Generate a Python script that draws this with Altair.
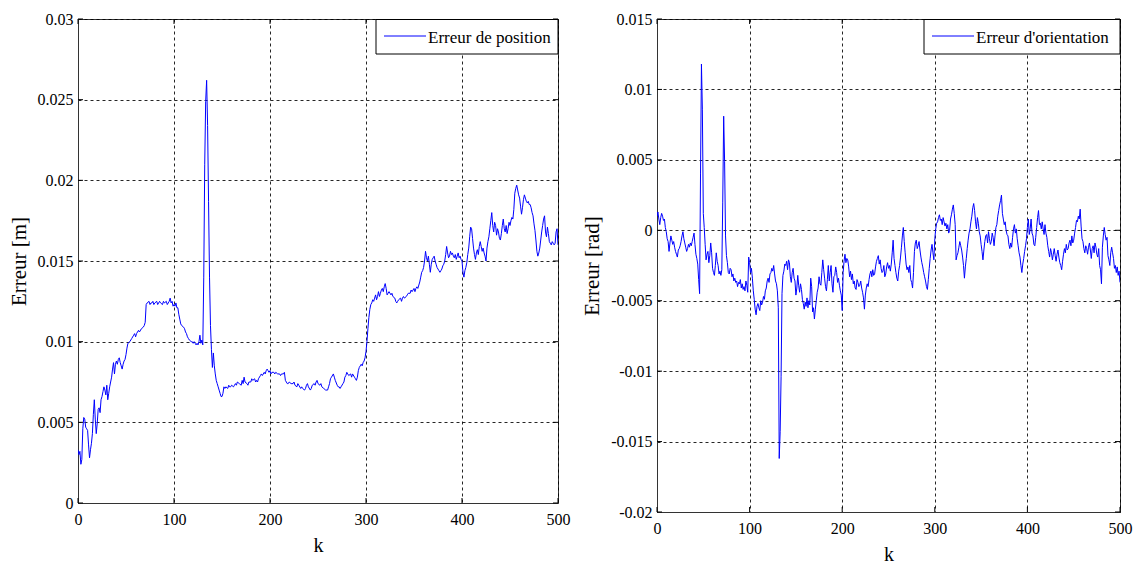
import altair as alt
import pandas as pd

# ---------------- data ----------------
k_pos = [0,1,2,3,4,5,6,7,8,9,10,11,12,13,14,15,16,17,18,19,20,21,22,23,24,25,26,27,28,29,30,
         31,32,33,34,35,36,37,38,39,40,41,42,43,44,45,46,47,48,49,50,51,52,54,56,58,59,60,61,62,63,64,66,68,69,70,
         71,72,74,75,76,77,78,79,80,82,83,84,85,86,88,89,90,92,93,94,95,96,97,98,99,100,
         101,102,103,104,105,106,107,108,110,111,112,113,114,115,116,118,119,120,121,122,123,124,125,126,127,128,129,130,
         131,132,133,134,135,136,137,138,139,140,141,142,143,144,145,146,147,148,149,150,
         151,152,153,154,156,157,158,159,160,162,163,164,165,166,168,170,171,172,173,174,176,177,178,180,
         181,182,184,185,186,187,188,190,191,192,194,195,196,197,198,199,200,
         201,202,204,205,206,208,210,211,212,214,215,216,218,219,220,222,224,225,226,228,229,230,
         232,233,234,236,237,238,239,240,242,243,244,246,247,248,249,250,252,253,254,256,258,260,
         261,262,263,264,266,267,268,270,271,272,273,274,276,277,278,279,280,281,282,284,285,286,288,289,290,
         291,292,293,294,295,296,297,298,299,300,301,302,303,304,305,306,307,308,309,310,
         311,312,313,314,315,316,317,318,319,320,321,322,323,324,326,327,328,330,331,332,333,334,336,337,338,339,340,
         342,343,344,346,347,348,349,350,351,352,353,354,356,357,358,359,360,
         361,362,363,364,365,366,367,368,369,370,371,372,373,374,375,376,377,378,379,380,
         381,382,383,384,385,386,387,388,389,390,391,392,393,394,395,396,397,398,399,400,
         401,402,403,404,405,406,407,408,409,410,411,412,413,414,415,416,417,418,419,420,
         421,422,423,424,425,426,427,428,429,430,431,432,433,434,435,436,437,438,439,440,
         441,442,443,444,445,446,447,448,449,450,451,452,453,454,455,456,457,458,459,460,
         461,462,463,464,465,466,467,468,469,470,471,472,473,474,475,476,477,478,479,480,
         481,482,483,484,485,486,487,488,489,490,491,492,493,494,495,496,497,498,499,500]
err_pos = [0.0033,0.0030,0.0032,0.0024,0.0027,0.0046,0.0053,0.0052,0.0047,0.0046,0.0045,0.0036,0.0028,0.0033,0.0037,
           0.0043,0.0055,0.0064,0.0052,0.0043,0.0049,0.0058,0.0059,0.0056,0.0064,0.0066,0.0069,0.0072,0.0070,0.0067,0.0073,
           0.0064,0.0068,0.0072,0.0075,0.0078,0.0083,0.0087,0.0080,0.0086,0.0088,0.0086,0.0089,0.0090,0.0087,0.0085,0.0083,
           0.0086,0.0088,0.0089,0.0092,0.0096,0.0099,0.0100,0.0102,0.0104,0.0105,0.0103,0.0105,0.0106,0.0107,0.0106,0.0108,
           0.0109,0.0110,0.0112,
           0.0123,0.0124,0.0125,0.0123,0.0124,0.0124,0.0125,0.0123,0.0124,0.0125,0.0123,0.0124,0.0125,0.0124,0.0123,0.0125,
           0.0124,0.0125,0.0123,0.0124,0.0125,0.0127,0.0124,0.0125,0.0122,0.0123,
           0.0122,0.0124,0.0121,0.0121,0.0117,0.0114,0.0111,0.0110,0.0109,0.0108,0.0106,0.0105,0.0103,0.0102,0.0101,0.0100,
           0.0100,0.0099,0.0100,0.0099,0.0098,0.0099,0.0098,0.0100,0.0104,0.0099,0.0101,0.0098,
           0.0140,0.0210,0.0249,0.0262,0.0234,0.0187,0.0140,0.0110,0.0095,0.0084,0.0093,0.0085,0.0080,0.0076,0.0074,0.0072,
           0.0070,0.0068,0.0066,0.0066,
           0.0068,0.0072,0.0071,0.0072,0.0071,0.0073,0.0072,0.0072,0.0073,0.0072,0.0073,0.0074,0.0073,0.0075,0.0074,0.0073,
           0.0076,0.0074,0.0078,0.0075,0.0074,0.0073,0.0075,0.0075,
           0.0077,0.0076,0.0077,0.0075,0.0076,0.0075,0.0077,0.0079,0.0080,0.0079,0.0081,0.0080,0.0082,0.0083,0.0082,0.0081,
           0.0082,
           0.0080,0.0081,0.0081,0.0080,0.0081,0.0080,0.0080,0.0079,0.0080,0.0080,0.0081,0.0076,0.0074,0.0074,0.0075,0.0074,
           0.0074,0.0075,0.0073,0.0072,0.0074,0.0073,
           0.0071,0.0072,0.0071,0.0070,0.0071,0.0073,0.0074,0.0072,0.0070,0.0071,0.0073,0.0074,0.0073,0.0075,0.0076,0.0074,
           0.0073,0.0074,0.0072,0.0071,0.0070,0.0070,
           0.0072,0.0074,0.0077,0.0078,0.0080,0.0078,0.0076,0.0073,0.0072,0.0072,0.0071,0.0072,0.0074,0.0075,0.0078,0.0079,
           0.0081,0.0080,0.0079,0.0080,0.0078,0.0080,0.0078,0.0077,0.0076,
           0.0078,0.0082,0.0084,0.0085,0.0086,0.0085,0.0087,0.0088,0.0090,0.0094,0.0100,0.0108,0.0115,0.0120,0.0123,0.0124,
           0.0126,0.0125,0.0127,0.0129,
           0.0126,0.0128,0.0131,0.0128,0.0130,0.0132,0.0133,0.0131,0.0134,0.0136,0.0133,0.0129,0.0130,0.0131,0.0129,0.0130,
           0.0128,0.0127,0.0125,0.0124,0.0125,0.0126,0.0127,0.0125,0.0127,0.0128,0.0127,
           0.0128,0.0129,0.0130,0.0130,0.0132,0.0131,0.0132,0.0133,0.0131,0.0133,0.0134,0.0133,0.0137,0.0140,0.0143,0.0144,
           0.0146,
           0.0150,0.0156,0.0152,0.0150,0.0153,0.0148,0.0143,0.0148,0.0151,0.0152,0.0153,0.0150,0.0148,0.0146,0.0145,0.0144,
           0.0143,0.0144,0.0145,0.0147,
           0.0148,0.0150,0.0154,0.0159,0.0155,0.0152,0.0153,0.0156,0.0154,0.0155,0.0153,0.0152,0.0154,0.0151,0.0153,0.0155,
           0.0152,0.0153,0.0151,0.0150,
           0.0143,0.0140,0.0144,0.0146,0.0149,0.0154,0.0158,0.0165,0.0171,0.0170,0.0164,0.0158,0.0154,0.0151,0.0155,0.0157,
           0.0154,0.0159,0.0162,0.0159,
           0.0156,0.0158,0.0155,0.0153,0.0150,0.0158,0.0162,0.0165,0.0170,0.0175,0.0180,0.0172,0.0168,0.0174,0.0172,0.0166,
           0.0170,0.0168,0.0164,0.0163,
           0.0167,0.0172,0.0176,0.0170,0.0168,0.0172,0.0167,0.0170,0.0174,0.0172,0.0175,0.0177,0.0176,0.0182,0.0192,0.0195,
           0.0197,0.0194,0.0191,0.0189,
           0.0184,0.0179,0.0183,0.0188,0.0191,0.0189,0.0187,0.0186,0.0187,0.0185,0.0185,0.0183,0.0180,0.0178,0.0173,0.0169,
           0.0163,0.0156,0.0153,0.0155,
           0.0158,0.0163,0.0168,0.0172,0.0176,0.0178,0.0168,0.0165,0.0171,0.0167,0.0162,0.0161,0.0160,0.0162,0.0161,0.0160,
           0.0161,0.0168,0.0170,0.0160]

err_ori = [0.0010,0.0013,0.0008,0.0004,0.0009,0.0012,0.0010,0.0007,0.0008,0.0002,
           -0.0001,-0.0006,-0.0008,-0.0015,-0.0009,-0.0004,-0.0007,-0.0010,-0.0008,-0.0012,
           -0.0015,-0.0017,-0.0019,-0.0014,-0.0013,-0.0011,-0.0008,-0.0004,-0.0001,-0.0006,
           -0.0009,-0.0012,-0.0015,-0.0013,-0.0010,-0.0012,-0.0009,-0.0011,-0.0008,-0.0005,
           -0.0002,-0.0010,-0.0017,-0.0020,-0.0024,-0.0035,-0.0045,0.0040,0.0118,0.0086,
           0.0012,0.0002,-0.0010,-0.0021,-0.0017,-0.0015,-0.0023,-0.0018,-0.0009,-0.0016,
           -0.0027,-0.0030,-0.0032,-0.0025,-0.0016,-0.0022,-0.0025,-0.0031,-0.0029,-0.0032,
           -0.0028,0.0020,0.0081,0.0049,-0.0004,-0.0018,-0.0023,-0.0030,-0.0031,-0.0027,
           -0.0028,-0.0033,-0.0031,-0.0036,-0.0034,-0.0037,-0.0036,-0.0040,-0.0037,-0.0038,
           -0.0035,-0.0041,-0.0038,-0.0042,-0.0040,-0.0043,-0.0036,-0.0039,-0.0044,-0.0019,
           -0.0023,-0.0030,-0.0027,-0.0034,-0.0043,-0.0049,-0.0056,-0.0060,-0.0054,-0.0052,
           -0.0055,-0.0057,-0.0050,-0.0053,-0.0051,-0.0047,-0.0049,-0.0043,-0.0041,-0.0036,
           -0.0034,-0.0037,-0.0031,-0.0030,-0.0027,-0.0029,-0.0025,-0.0031,-0.0036,-0.0038,
           -0.0043,-0.0055,-0.0162,-0.0143,-0.0104,-0.0045,-0.0032,-0.0029,-0.0024,-0.0025,
           -0.0022,-0.0028,-0.0021,-0.0023,-0.0033,-0.0037,-0.0030,-0.0027,-0.0034,-0.0036,
           -0.0046,-0.0041,-0.0032,-0.0039,-0.0044,-0.0038,-0.0042,-0.0049,-0.0052,-0.0056,
           -0.0051,-0.0054,-0.0048,-0.0055,-0.0050,-0.0053,-0.0034,-0.0040,-0.0058,-0.0055,
           -0.0063,-0.0056,-0.0050,-0.0044,-0.0041,-0.0033,-0.0038,-0.0039,-0.0030,-0.0021,
           -0.0028,-0.0034,-0.0040,-0.0043,-0.0035,-0.0025,-0.0036,-0.0030,-0.0025,-0.0038,
           -0.0044,-0.0033,-0.0032,-0.0026,-0.0030,-0.0037,-0.0034,-0.0039,-0.0043,-0.0046,
           -0.0057,-0.0030,-0.0022,-0.0017,-0.0023,-0.0020,-0.0021,-0.0026,-0.0033,-0.0029,
           -0.0035,-0.0031,-0.0038,-0.0036,-0.0041,-0.0042,-0.0035,-0.0037,-0.0040,-0.0039,
           -0.0036,-0.0041,-0.0044,-0.0048,-0.0056,-0.0046,-0.0041,-0.0038,-0.0040,-0.0035,
           -0.0031,-0.0029,-0.0033,-0.0028,-0.0032,-0.0031,-0.0026,-0.0022,-0.0020,-0.0018,
           -0.0024,-0.0021,-0.0027,-0.0030,-0.0029,-0.0025,-0.0033,-0.0031,-0.0026,-0.0023,
           -0.0027,-0.0025,-0.0029,-0.0024,-0.0016,-0.0007,-0.0020,-0.0025,-0.0030,-0.0034,
           -0.0036,-0.0029,-0.0025,-0.0019,-0.0012,-0.0004,0.0002,-0.0008,-0.0016,-0.0024,
           -0.0028,-0.0026,-0.0030,-0.0025,-0.0035,-0.0037,-0.0041,-0.0030,-0.0015,-0.0009,
           -0.0007,-0.0013,-0.0011,-0.0008,-0.0014,-0.0019,-0.0023,-0.0026,-0.0030,-0.0033,
           -0.0036,-0.0040,-0.0042,-0.0035,-0.0027,-0.0020,-0.0014,-0.0010,-0.0016,-0.0021,
           -0.0006,0.0001,0.0005,0.0006,0.0009,0.0011,0.0007,0.0008,0.0004,0.0009,
           0.0006,0.0003,0.0005,0.0001,0.0004,-0.0002,0.0000,0.0008,0.0011,0.0015,
           0.0018,0.0012,0.0004,-0.0021,-0.0018,-0.0016,-0.0012,-0.0008,-0.0011,-0.0014,
           -0.0019,-0.0025,-0.0034,-0.0026,-0.0020,-0.0013,-0.0007,-0.0002,0.0001,0.0006,
           0.0010,0.0016,0.0019,0.0014,0.0006,0.0001,0.0009,0.0005,-0.0001,-0.0004,
           -0.0010,-0.0015,-0.0021,-0.0014,-0.0008,-0.0004,-0.0003,-0.0009,-0.0001,-0.0006,
           -0.0010,-0.0008,-0.0002,-0.0005,-0.0011,-0.0004,0.0002,0.0004,0.0010,0.0014,
           0.0018,0.0021,0.0025,0.0012,0.0008,0.0004,0.0006,0.0000,-0.0003,-0.0004,
           -0.0010,-0.0013,-0.0009,-0.0012,-0.0005,0.0001,0.0004,-0.0002,0.0001,-0.0006,
           -0.0011,-0.0016,-0.0019,-0.0025,-0.0030,-0.0024,-0.0020,-0.0015,-0.0011,-0.0006,
           0.0002,0.0008,-0.0003,0.0001,0.0008,-0.0002,-0.0004,-0.0010,-0.0011,-0.0005,
           0.0002,0.0009,0.0014,0.0004,0.0005,0.0001,0.0006,0.0001,-0.0003,0.0004,
           -0.0002,-0.0005,-0.0011,-0.0015,-0.0019,-0.0013,-0.0016,-0.0021,-0.0017,-0.0013,
           -0.0018,-0.0022,-0.0017,-0.0014,-0.0019,-0.0023,-0.0025,-0.0028,-0.0022,-0.0017,
           -0.0013,-0.0016,-0.0010,-0.0014,-0.0013,-0.0009,-0.0007,-0.0011,-0.0004,-0.0009,
           -0.0007,-0.0002,0.0002,0.0007,0.0006,0.0010,0.0008,0.0015,0.0003,-0.0006,
           -0.0008,-0.0013,-0.0016,-0.0011,-0.0013,-0.0017,-0.0012,-0.0009,-0.0014,-0.0020,
           -0.0013,-0.0011,-0.0016,-0.0009,-0.0012,-0.0017,-0.0019,-0.0013,-0.0025,-0.0028,
           -0.0038,-0.0012,-0.0004,0.0002,-0.0003,-0.0007,-0.0005,-0.0018,-0.0021,-0.0025,
           -0.0016,-0.0012,-0.0016,-0.0020,-0.0027,-0.0025,-0.0030,-0.0026,-0.0032,-0.0029,
           -0.0037]
k_ori = list(range(len(err_ori)))

x_ticks = [0, 100, 200, 300, 400, 500]
y_ticks_pos = [0, 0.005, 0.01, 0.015, 0.02, 0.025, 0.03]
y_ticks_ori = [-0.02, -0.015, -0.01, -0.005, 0, 0.005, 0.01, 0.015]

FONT = "Liberation Serif"
BLUE = "#0000ff"


def panel(k, vals, name, yticks, ytitle, w, h, legend_w):
    df = pd.DataFrame({"k": k, "v": vals})
    xs = alt.Scale(domain=[0, 500], nice=False)
    ys = alt.Scale(domain=[yticks[0], yticks[-1]], nice=False, zero=False)
    xa = alt.Axis(values=x_ticks, title="k", grid=True, ticks=False, labelFlush=False,
                  labelPadding=8, titlePadding=8)
    ya = alt.Axis(values=yticks, title=ytitle, grid=True, ticks=False,
                  labelExpr="replace(format(datum.value, '~g'), '\u2212', '-')",
                  labelPadding=5, titlePadding=8)
    X = alt.X("k:Q", scale=xs, axis=xa)
    Y = alt.Y("v:Q", scale=ys, axis=ya)

    line = alt.Chart(df).mark_line(strokeWidth=1, clip=True, color=BLUE).encode(x=X, y=Y)

    # MATLAB-style inward ticks on all four sides
    xt = pd.DataFrame({"k": x_ticks})
    yt = pd.DataFrame({"v": yticks})
    tick_b = alt.Chart(xt).mark_rule(color="black").encode(x=X, y=alt.value(h), y2=alt.value(h - 5))
    tick_t = alt.Chart(xt).mark_rule(color="black").encode(x=X, y=alt.value(0), y2=alt.value(5))
    tick_l = alt.Chart(yt).mark_rule(color="black").encode(y=Y, x=alt.value(0), x2=alt.value(5))
    tick_r = alt.Chart(yt).mark_rule(color="black").encode(y=Y, x=alt.value(w), x2=alt.value(w - 5))

    # legend box (top-right, inside the axes)
    leg = pd.DataFrame({"serie": [name]})
    x0 = w - legend_w
    box = alt.Chart(leg).mark_rect(fill="white", stroke="black", strokeWidth=1).encode(
        x=alt.value(x0), x2=alt.value(w), y=alt.value(0.5), y2=alt.value(35))
    sym = alt.Chart(leg).mark_rule(color=BLUE, strokeWidth=1).encode(
        x=alt.value(x0 + 8), x2=alt.value(x0 + 50), y=alt.value(17))
    txt = alt.Chart(leg).mark_text(align="left", baseline="alphabetic", font=FONT,
                                   fontSize=17, color="black").encode(
        text="serie:N", x=alt.value(x0 + 52), y=alt.value(24))
    return alt.layer(line, tick_b, tick_t, tick_l, tick_r, box, sym, txt).properties(width=w, height=h)


left = panel(k_pos, err_pos, "Erreur de position", y_ticks_pos, "Erreur [m]", 480, 484, 182)
right = panel(k_ori, err_ori, "Erreur d'orientation", y_ticks_ori, "Erreur [rad]", 463, 493, 196)

chart = alt.hconcat(left, right, spacing=10).resolve_scale(
    x="independent", y="independent"
).properties(
    padding={"left": 7, "top": 10, "right": 5, "bottom": 5},
    background="white",
).configure_view(stroke="#333333", strokeWidth=1).configure_axis(
    domainColor="#333333",
    gridColor="black",
    gridDash=[3, 3],
    gridOpacity=0.85,
    labelFont=FONT,
    labelFontSize=16,
    labelColor="black",
    titleFont=FONT,
    titleFontSize=20,
    titleFontWeight="normal",
    titleColor="black",
).configure_axisY(titleFontSize=21)

chart.save("out.html", embed_options={"renderer": "svg", "actions": False})
